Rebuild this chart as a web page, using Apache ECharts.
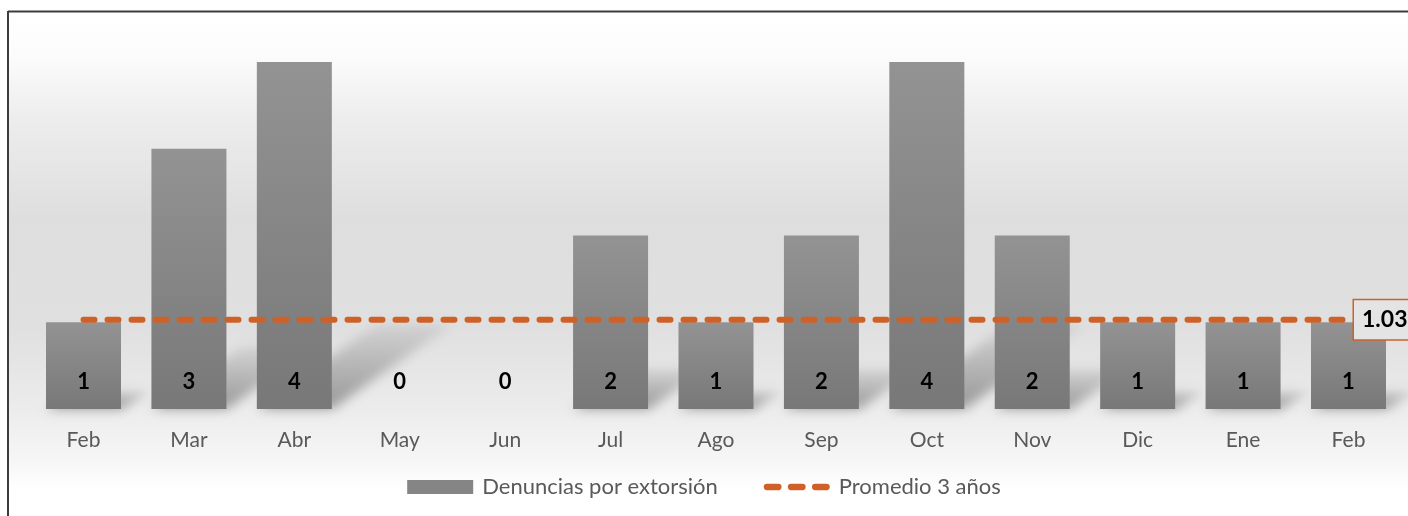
<!DOCTYPE html>
<html>
<head>
<meta charset="utf-8">
<script src="https://cdn.jsdelivr.net/npm/echarts@6/dist/echarts.min.js"></script>
<style>
html,body{margin:0;padding:0;background:#fff;}
#c{width:1408px;height:516px;}
</style>
</head>
<body>
<div id="c"></div>
<script>
const categories = ['Feb','Mar','Abr','May','Jun','Jul','Ago','Sep','Oct','Nov','Dic','Ene','Feb'];
const denuncias = [1,3,4,0,0,2,1,2,4,2,1,1,1];
const promedio = [1.03,1.03,1.03,1.03,1.03,1.03,1.03,1.03,1.03,1.03,1.03,1.03,1.03];
const seriesNames = ['Denuncias por extorsión','Promedio 3 años'];

const FONT = 'Lato, "Open Sans", sans-serif';
const ORANGE = '#cf6128';
const BAR_W = 75;

const chart = echarts.init(document.getElementById('c'), null, {renderer:'canvas'});

const lineData = promedio.map((v,i) => {
  if (i === promedio.length - 1) {
    return {
      value: v,
      symbol: 'circle', symbolSize: 1,
      itemStyle: {color: 'rgba(0,0,0,0)'},
      label: {
        show: true, position: 'right', distance: 5,
        formatter: p => p.value.toFixed(2),
        color: '#000', fontFamily: FONT, fontWeight: 'bold', fontSize: 23,
        borderColor: ORANGE, borderWidth: 1.5,
        backgroundColor: '#e4e4e4',
        padding: [8, 8, 8, 8]
      }
    };
  }
  return v;
});

const shadowData = denuncias.map((v, i) => [i, v]);

// three rounded dashes for the legend icon of the dashed line
const dashIcon = 'path://M3,0 H14 A3,3 0 0 1 14,6 H3 A3,3 0 0 1 3,0 Z ' +
                 'M26,0 H37 A3,3 0 0 1 37,6 H26 A3,3 0 0 1 26,0 Z ' +
                 'M49,0 H60 A3,3 0 0 1 60,6 H49 A3,3 0 0 1 49,0 Z';

chart.setOption({
  animation: false,
  graphic: [
    {
      type: 'rect', z: -10, silent: true,
      shape: {x: 9, y: 12, width: 1399, height: 504},
      style: {
        fill: new echarts.graphic.LinearGradient(0, 0, 0, 1, [
          {offset: 0, color: '#ffffff'},
          {offset: 0.095, color: '#fbfbfb'},
          {offset: 0.21, color: '#ededed'},
          {offset: 0.41, color: '#dedede'},
          {offset: 0.63, color: '#e0e0e0'},
          {offset: 0.79, color: '#ececec'},
          {offset: 0.89, color: '#f6f6f6'},
          {offset: 0.95, color: '#ffffff'},
          {offset: 1, color: '#ffffff'}
        ])
      }
    },
    {
      type: 'line', z: 100, silent: true,
      shape: {x1: 8, y1: 11.5, x2: 1408, y2: 11.5},
      style: {stroke: '#3c3c3c', lineWidth: 2}
    },
    {
      type: 'line', z: 100, silent: true,
      shape: {x1: 8, y1: 11, x2: 8, y2: 516},
      style: {stroke: '#3c3c3c', lineWidth: 2}
    }
  ],
  grid: {left: 30.8, right: 6.8, top: 62, bottom: 107, containLabel: false},
  legend: {
    left: 'center', top: 471, itemGap: 46,
    itemWidth: 66, itemHeight: 14,
    textStyle: {fontFamily: FONT, fontSize: 22, color: '#595959', padding: [0, 0, 0, 4]},
    data: [
      {name: seriesNames[0], icon: 'rect', itemStyle: {color: '#858585'}},
      {name: seriesNames[1], icon: dashIcon, itemStyle: {color: ORANGE}}
    ]
  },
  xAxis: {
    type: 'category', data: categories,
    axisLine: {show: false}, axisTick: {show: false},
    axisLabel: {color: '#595959', fontFamily: FONT, fontSize: 21, margin: 21}
  },
  yAxis: {
    type: 'value', min: 0, max: 4, interval: 1, show: false,
    splitLine: {show: false}
  },
  series: [
    {
      // perspective shadows behind the bars, derived from the bar values
      name: 'shadow', type: 'custom', data: shadowData, z: 1, silent: true,
      encode: {x: 0, y: 1},
      renderItem: function (params, api) {
        const idx = api.value(0);
        const v = api.value(1);
        const base = api.coord([idx, 0]);
        const top = api.coord([idx, v]);
        const h = base[1] - top[1];
        if (h <= 0) return null;
        const w = BAR_W / 2;
        const dx = 0.35 * h, dy = 0.25 * h;
        const off = 3000;
        return {
          type: 'polygon',
          shape: {points: [
            [base[0] - w - off, base[1]],
            [base[0] + w - off, base[1]],
            [base[0] + w + dx - off, base[1] - dy],
            [base[0] - w + dx - off, base[1] - dy]
          ]},
          style: {
            fill: new echarts.graphic.LinearGradient(0, 1, 0, 0, [
              {offset: 0, color: 'rgba(0,0,0,1)'},
              {offset: 1, color: 'rgba(0,0,0,0.15)'}
            ]),
            shadowColor: 'rgba(0,0,0,0.36)',
            shadowBlur: 12,
            shadowOffsetX: off,
            shadowOffsetY: 0
          }
        };
      }
    },
    {
      name: seriesNames[0], type: 'bar', data: denuncias, barWidth: BAR_W,
      itemStyle: {
        color: new echarts.graphic.LinearGradient(0, 0, 0, 1, [
          {offset: 0, color: '#939393'},
          {offset: 1, color: '#787878'}
        ])
      },
      label: {
        show: true, position: 'insideBottom', distance: 16,
        color: '#000', fontFamily: FONT, fontWeight: 'bold', fontSize: 22
      },
      z: 2
    },
    {
      name: seriesNames[1], type: 'line', data: lineData,
      symbol: 'none', showSymbol: true,
      lineStyle: {color: ORANGE, width: 6, type: [11, 13], cap: 'round'},
      itemStyle: {color: ORANGE},
      z: 5
    }
  ]
});
</script>
</body>
</html>
